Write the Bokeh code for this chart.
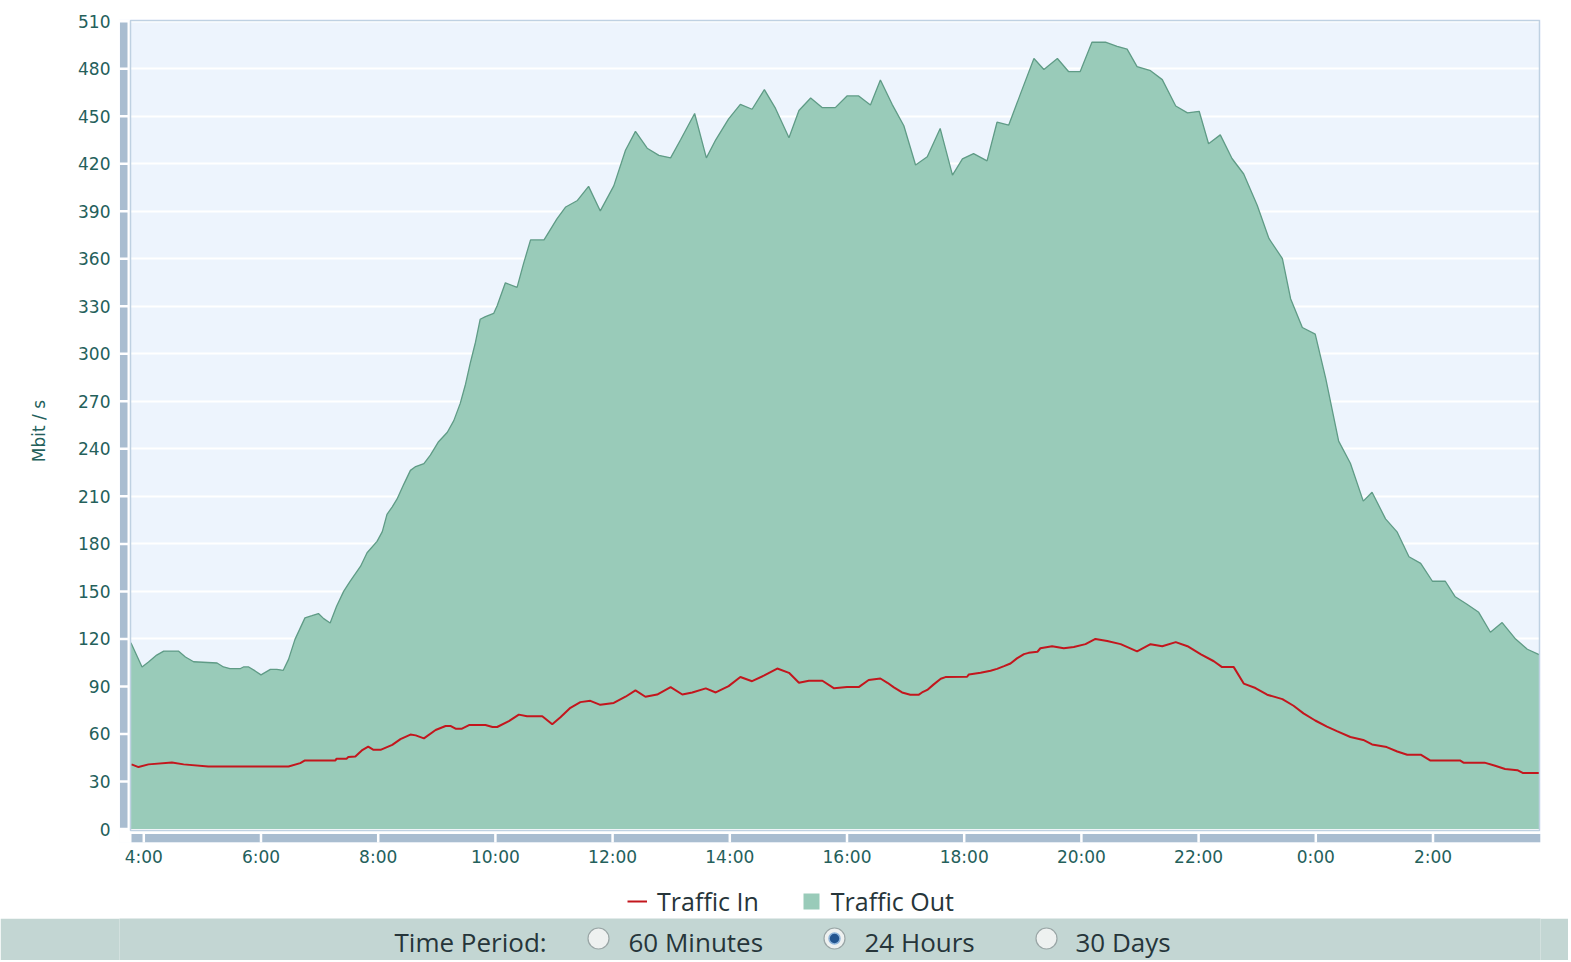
from bokeh.plotting import figure
from bokeh.models import Range1d, FixedTicker, CustomJSTickFormatter, Legend, LegendItem
from bokeh.layouts import column
from bokeh.embed import file_html
from bokeh.resources import INLINE
from bokeh.core.properties import value

# ---------------- data (hours since midnight of day 1; Mbit/s) ----------------
out_t = [3.78, 3.97, 4.08, 4.22, 4.34, 4.59, 4.71, 4.85, 5.25, 5.36, 5.47, 5.65, 5.70, 5.79, 5.90,
         6.00, 6.16, 6.27, 6.38, 6.47, 6.58, 6.75, 6.87, 6.98, 7.07, 7.18, 7.29, 7.41, 7.52, 7.70,
         7.81, 7.98, 8.07, 8.15, 8.24, 8.32, 8.44, 8.55, 8.64, 8.78, 8.89, 9.03, 9.18, 9.29, 9.40,
         9.49, 9.57, 9.66, 9.74, 9.83, 9.97, 10.03, 10.17, 10.37, 10.48, 10.60, 10.83, 10.94, 11.05,
         11.20, 11.40, 11.59, 11.79, 12.02, 12.22, 12.39, 12.59, 12.79, 12.99, 13.16, 13.40, 13.60,
         13.76, 13.98, 14.18, 14.38, 14.59, 14.78, 15.01, 15.18, 15.38, 15.58, 15.80, 16.00, 16.20,
         16.40, 16.57, 16.77, 16.97, 17.17, 17.37, 17.59, 17.80, 17.97, 18.16, 18.39, 18.56, 18.76,
         18.96, 19.19, 19.36, 19.59, 19.78, 19.98, 20.18, 20.41, 20.61, 20.78, 20.95, 21.18, 21.38,
         21.61, 21.81, 22.01, 22.17, 22.37, 22.57, 22.77, 23.00, 23.20, 23.43, 23.57, 23.77, 23.99,
         24.17, 24.39, 24.59, 24.81, 24.96, 25.19, 25.39, 25.59, 25.79, 25.99, 26.21, 26.38, 26.58,
         26.78, 26.98, 27.18, 27.41, 27.61, 27.81]
out_v = [117.6, 102.3, 105.4, 109.8, 112.3, 112.3, 108.6, 105.6, 104.8, 102.3, 101.3, 101.3, 102.3, 102.3, 99.8,
         97.3, 100.8, 100.8, 100.2, 107.1, 119.7, 133.3, 134.7, 136.0, 132.8, 130.1, 140.6, 150.0, 156.3, 165.9,
         174.4, 181.6, 187.7, 198.6, 203.4, 208.2, 217.9, 226.4, 228.8, 230.7, 236.0, 244.5, 250.5, 257.8, 268.7,
         280.8, 294.0, 307.3, 321.8, 323.5, 325.5, 330.3, 344.8, 341.9, 356.9, 371.9, 371.9, 378.6, 385.2,
         392.7, 396.8, 405.7, 390.2, 406.0, 428.5, 440.4, 429.8, 425.3, 423.7, 435.1, 451.7, 423.7,
         435.1, 448.3, 457.5, 454.4, 466.8, 454.9, 436.4, 453.6, 461.5, 455.4, 455.4, 462.8, 462.8,
         457.0, 472.9, 457.5, 444.0, 419.2, 424.4, 442.3, 412.8, 423.1, 426.4, 421.8, 446.2, 444.4,
         464.1, 486.4, 479.5, 486.4, 478.2, 478.2, 496.7, 496.7, 494.1, 492.3, 481.3, 478.7, 473.1,
         456.4, 452.1, 453.1, 432.6, 438.2, 423.3, 413.5, 393.8, 372.8, 360.1, 334.8, 316.6, 312.4,
         284.3, 244.9, 230.9, 207.0, 212.6, 195.8, 187.4, 171.9, 167.7, 156.4, 156.4, 146.6, 141.9,
         136.8, 124.2, 130.3, 119.9, 113.5, 110.1]

in_t = [3.79, 3.91, 4.08, 4.48, 4.68, 5.10, 6.47, 6.67, 6.75, 7.27, 7.29, 7.46, 7.49, 7.61, 7.72,
        7.83, 7.92, 8.04, 8.24, 8.38, 8.55, 8.64, 8.78, 8.98, 9.15, 9.24, 9.32, 9.43, 9.55, 9.83,
        9.95, 10.03, 10.23, 10.40, 10.54, 10.80, 10.97, 11.11, 11.28, 11.45, 11.62, 11.79, 12.02,
        12.22, 12.39, 12.56, 12.76, 12.99, 13.19, 13.36, 13.59, 13.76, 13.98, 14.18, 14.38, 14.58,
        14.81, 15.01, 15.18, 15.35, 15.58, 15.78, 16.00, 16.20, 16.37, 16.57, 16.69, 16.80, 16.94,
        17.08, 17.22, 17.28, 17.37, 17.48, 17.60, 17.68, 18.05, 18.08, 18.28, 18.45, 18.56, 18.68,
        18.79, 18.90, 19.02, 19.10, 19.25, 19.30, 19.50, 19.70, 19.87, 20.07, 20.24, 20.44, 20.67,
        20.95, 21.18, 21.38, 21.61, 21.81, 22.04, 22.26, 22.40, 22.60, 22.77, 22.97, 23.17, 23.43,
        23.62, 23.79, 23.99, 24.19, 24.36, 24.59, 24.81, 24.96, 25.21, 25.39, 25.56, 25.79, 25.95,
        26.46, 26.52, 26.88, 27.06, 27.23, 27.44, 27.53, 27.81]
in_v = [40.8, 39.1, 40.8, 42.0, 40.8, 39.5, 39.5, 41.6, 43.3, 43.3, 44.4, 44.4, 45.4, 45.8, 49.6,
        52.0, 50.0, 50.0, 53.1, 56.7, 59.6, 59.1, 57.2, 62.5, 65.0, 65.0, 63.3, 63.3, 65.6, 65.6,
        64.4, 64.4, 68.1, 72.2, 71.2, 71.2, 66.1, 70.5, 76.5, 80.1, 80.9, 78.4, 79.6,
        83.5, 87.5, 83.5, 84.9, 89.6, 84.9, 86.2, 88.8, 86.2, 90.2, 96.0, 93.3, 96.8,
        101.3, 98.6, 92.3, 93.6, 93.6, 88.8, 89.6, 89.6, 94.1, 95.0, 92.3, 89.4, 86.2,
        84.7, 84.7, 86.2, 87.8, 91.3, 94.9, 95.9, 96.1, 97.6, 98.6, 99.9, 101.1, 102.8,
        104.5, 107.7, 110.4, 111.2, 111.9, 114.1, 115.4, 114.1, 114.9, 116.7, 120.0, 118.7, 116.7,
        112.1, 116.7, 115.4, 118.0, 115.4, 110.3, 105.9, 102.2, 102.2, 91.8, 89.0, 84.8, 82.0,
        77.8, 73.0, 68.5, 64.6, 61.8, 58.1, 56.2, 53.4, 51.7, 48.9, 46.9, 46.9, 43.3,
        43.3, 41.9, 41.9, 39.9, 37.9, 37.1, 35.4, 35.4]

y_ticks = list(range(0, 511, 30))
x_ticks = [4, 6, 8, 10, 12, 14, 16, 18, 20, 22, 24, 26]
series_names = ["Traffic In", "Traffic Out"]
period_labels = ["60 Minutes", "24 Hours", "30 Days"]
selected_period = "24 Hours"

# ---------------- geometry helpers (page pixels -> data) ----------------
def hx(px):
    return 4 + (px - 143.3) / 58.6

def vy(py):
    return (828.5 - py) / 1.584

W = 1568
MAIN_H = 870
LEG_H = 48
BAR_H = 42
FL, FR = 119, 1540   # frame left / right on the page (shared by all stacked figures)

TICK_COL = "#24605b"
TEXT_COL = "#26353a"
BAND = "#a9bdd0"
FILL = "#99cbb9"
EDGE = "#5f9b86"
RED = "#c3161d"
BG = "#edf4fd"
BAR_BG = "#c3d6d3"

p = figure(width=W, height=MAIN_H, output_backend="svg", toolbar_location=None,
           x_range=Range1d(hx(FL), hx(FR)), y_range=Range1d(vy(842), vy(19)),
           min_border_left=FL, min_border_right=W - FR,
           min_border_top=19, min_border_bottom=MAIN_H - 842)
p.background_fill_color = BG
p.border_fill_color = "white"
p.outline_line_color = None

p.xgrid.visible = False
p.ygrid.ticker = FixedTicker(ticks=y_ticks)
p.ygrid.grid_line_color = "white"
p.ygrid.grid_line_width = 2

# data
out_area = p.varea(x=out_t, y1=[0] * len(out_t), y2=out_v, fill_color=FILL)
p.line(out_t, out_v, line_color=EDGE, line_width=1.3)
in_line = p.line(in_t, in_v, line_color=RED, line_width=2)

# masks outside the plot area
x0, x1 = hx(130), hx(1539)
y0, y1 = vy(830), vy(20)
p.quad(left=[hx(100)], right=[x0], bottom=[vy(900)], top=[vy(0)], fill_color="white", line_color=None)
p.quad(left=[hx(100)], right=[hx(1600)], bottom=[vy(900)], top=[y0], fill_color="white", line_color=None)
# plot area border
p.quad(left=[x0], right=[x1], bottom=[y0], top=[y1], fill_alpha=0, line_color="#bfd1e2", line_width=1.5)

# axis bands
p.quad(left=[hx(119.5)], right=[hx(127)], bottom=[0], top=[510], fill_color=BAND, line_color=None)
p.quad(left=[hx(131)], right=[hx(1540)], bottom=[vy(842)], top=[vy(833.5)], fill_color=BAND, line_color=None)
p.segment(x0=[hx(118)] * len(y_ticks), x1=[hx(128)] * len(y_ticks), y0=y_ticks, y1=y_ticks,
          line_color="white", line_width=2.5)
p.segment(x0=x_ticks, x1=x_ticks, y0=[vy(832)] * len(x_ticks), y1=[vy(843)] * len(x_ticks),
          line_color="white", line_width=2.5)

# axes
for ax in (p.yaxis[0], p.xaxis[0]):
    ax.axis_line_color = None
    ax.major_tick_line_color = None
    ax.minor_tick_line_color = None
    ax.major_tick_in = 0
    ax.major_tick_out = 0
    ax.major_label_text_font = "DejaVu Sans"
    ax.major_label_text_font_size = "17px"
    ax.major_label_text_color = TICK_COL

p.yaxis.ticker = FixedTicker(ticks=y_ticks)
p.yaxis.major_label_standoff = 9
p.yaxis.axis_label = "Mbit / s"
p.yaxis.axis_label_text_font = "DejaVu Sans"
p.yaxis.axis_label_text_font_size = "17px"
p.yaxis.axis_label_text_font_style = "normal"
p.yaxis.axis_label_text_color = TICK_COL
p.yaxis.axis_label_standoff = 26

p.xaxis.ticker = FixedTicker(ticks=x_ticks)
p.xaxis.formatter = CustomJSTickFormatter(code="var h = ((Math.round(tick) % 24) + 24) % 24; return h + ':00';")
p.xaxis.major_label_standoff = 4

# ---------------- legend strip ----------------
lg = figure(width=W, height=LEG_H, output_backend="svg", toolbar_location=None,
            x_range=Range1d(1000, 1001), y_range=Range1d(1000, 1001),
            x_axis_location=None, y_axis_location=None,
            min_border_left=FL, min_border_right=W - FR, min_border_top=0, min_border_bottom=0)
lg.background_fill_color = "white"
lg.border_fill_color = "white"
lg.outline_line_color = None
lg.grid.visible = False
leg_in = lg.line(in_t, in_v, line_color=RED, line_width=2)
leg_out = lg.varea(x=out_t, y1=[0] * len(out_t), y2=out_v, fill_color=FILL)
legend = Legend(items=[LegendItem(label=series_names[0], renderers=[leg_in]),
                       LegendItem(label=series_names[1], renderers=[leg_out])],
                orientation="horizontal", location=(627 - FL, 0),
                label_text_font="Open Sans", label_text_font_size="25px", label_text_color=TEXT_COL,
                glyph_width=20, glyph_height=20, label_standoff=10, spacing=42,
                padding=0, margin=0, border_line_color=None, background_fill_alpha=0)
lg.add_layout(legend, "center")

# ---------------- bottom bar (x in page pixels) ----------------
b = figure(width=W, height=BAR_H, output_backend="svg", toolbar_location=None,
           x_range=Range1d(FL, FR), y_range=Range1d(0, BAR_H),
           x_axis_location=None, y_axis_location=None,
           min_border_left=FL, min_border_right=W - FR, min_border_top=0, min_border_bottom=0)
b.background_fill_color = BAR_BG
b.border_fill_color = BAR_BG
b.outline_line_color = None
b.grid.visible = False

txt_y = 19
b.text(x=[394], y=[txt_y], text=["Time Period:"], text_font=value("Open Sans"),
       text_font_size="26px", text_color=TEXT_COL, text_baseline="middle")
radio_x = [598, 834, 1046]
label_x = [628, 864, 1075]
b.scatter(x=radio_x, y=[22] * 3, size=21, marker="circle", fill_color="#eef1f0",
          line_color="#9aa6a6", line_width=1.2)
sel = period_labels.index(selected_period)
b.scatter(x=[radio_x[sel]], y=[22], size=11, marker="circle", fill_color="#23558f",
          line_color="#8fb4da", line_width=1.5)
b.text(x=label_x, y=[txt_y] * 3, text=period_labels, text_font=value("Open Sans"),
       text_font_size="26px", text_color=TEXT_COL, text_baseline="middle")

layout = column(p, lg, b, spacing=0)
open("out.html", "w").write(file_html(layout, INLINE))
